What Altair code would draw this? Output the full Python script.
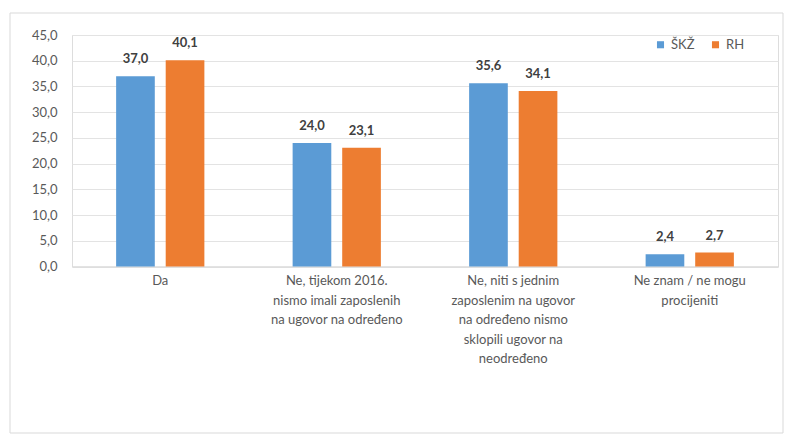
import altair as alt
import pandas as pd

categories = [
    "Da",
    "Ne, tijekom 2016.|nismo imali zaposlenih|na ugovor na određeno",
    "Ne, niti s jednim|zaposlenim na ugovor|na određeno nismo|sklopili ugovor na|neodređeno",
    "Ne znam / ne mogu|procijeniti",
]
series = ["ŠKŽ", "RH"]
skz = [37.0, 24.0, 35.6, 2.4]
rh = [40.1, 23.1, 34.1, 2.7]
colors = ["#5B9BD5", "#ED7D31"]
y_ticks = [0, 5, 10, 15, 20, 25, 30, 35, 40, 45]

rows = []
for c, a, b in zip(categories, skz, rh):
    rows.append({"cat": c, "serija": series[0], "v": a})
    rows.append({"cat": c, "serija": series[1], "v": b})
df = pd.DataFrame(rows)

FONT = "Lato"

base = alt.Chart(df).encode(
    x=alt.X(
        "cat:N",
        sort=categories,
        scale=alt.Scale(paddingInner=0.5, paddingOuter=0.25),
        axis=alt.Axis(
            title=None,
            labelAngle=0,
            labelExpr="split(datum.label, '|')",
            labelFont=FONT,
            labelFontSize=13,
            labelColor="#595959",
            labelLineHeight=19.5,
            labelPadding=8,
            labelBaseline="top",
            labelOverlap=False,
            ticks=False,
            domain=True,
            domainColor="#D9D9D9",
            grid=False,
            labelLimit=300,
        ),
    ),
    xOffset=alt.XOffset("serija:N", sort=series, scale=alt.Scale(paddingInner=0.22)),
    y=alt.Y(
        "v:Q",
        scale=alt.Scale(domain=[0, 45], nice=False),
        axis=alt.Axis(
            title=None,
            values=y_ticks,
            labelExpr="replace(format(datum.value, '.1f'), '.', ',')",
            labelFont=FONT,
            labelFontSize=13,
            labelColor="#595959",
            labelPadding=15,
            labelOverlap=False,
            labelFlush=False,
            ticks=False,
            domain=False,
            grid=True,
            gridColor="#E3E3E3",
        ),
    ),
)

bars = base.mark_bar().encode(
    color=alt.Color(
        "serija:N",
        sort=series,
        scale=alt.Scale(domain=series, range=colors),
        legend=alt.Legend(
            title=None,
            orient="none",
            legendX=582,
            legendY=3,
            direction="horizontal",
            symbolType="square",
            symbolSize=50,
            symbolStrokeWidth=0,
            labelFont=FONT,
            labelFontSize=13,
            labelColor="#595959",
            columnPadding=14,
            labelOffset=4,
        ),
    ),
)

labels = base.mark_text(
    baseline="middle", dy=-17, font=FONT, fontSize=13, fontWeight="bold", color="#404040"
).transform_calculate(
    lab="replace(format(datum.v, '.1f'), '.', ',')"
).encode(
    text="lab:N",
)

frame = alt.Chart(pd.DataFrame({"a": [0]})).mark_rect(
    fill=None, stroke="#D9D9D9", strokeWidth=1
).encode(
    x=alt.value(-62), x2=alt.value(711), y=alt.value(-22), y2=alt.value(398)
)

chart = alt.layer(frame, bars, labels).properties(
    width=706,
    height=231.5,
    autosize=alt.AutoSizeParams(type="none"),
    padding={"left": 64, "top": 27, "right": 6, "bottom": 186},
).configure_view(stroke=None).configure(background="white")

chart.save("out.html", embed_options={"renderer": "svg", "actions": False})
